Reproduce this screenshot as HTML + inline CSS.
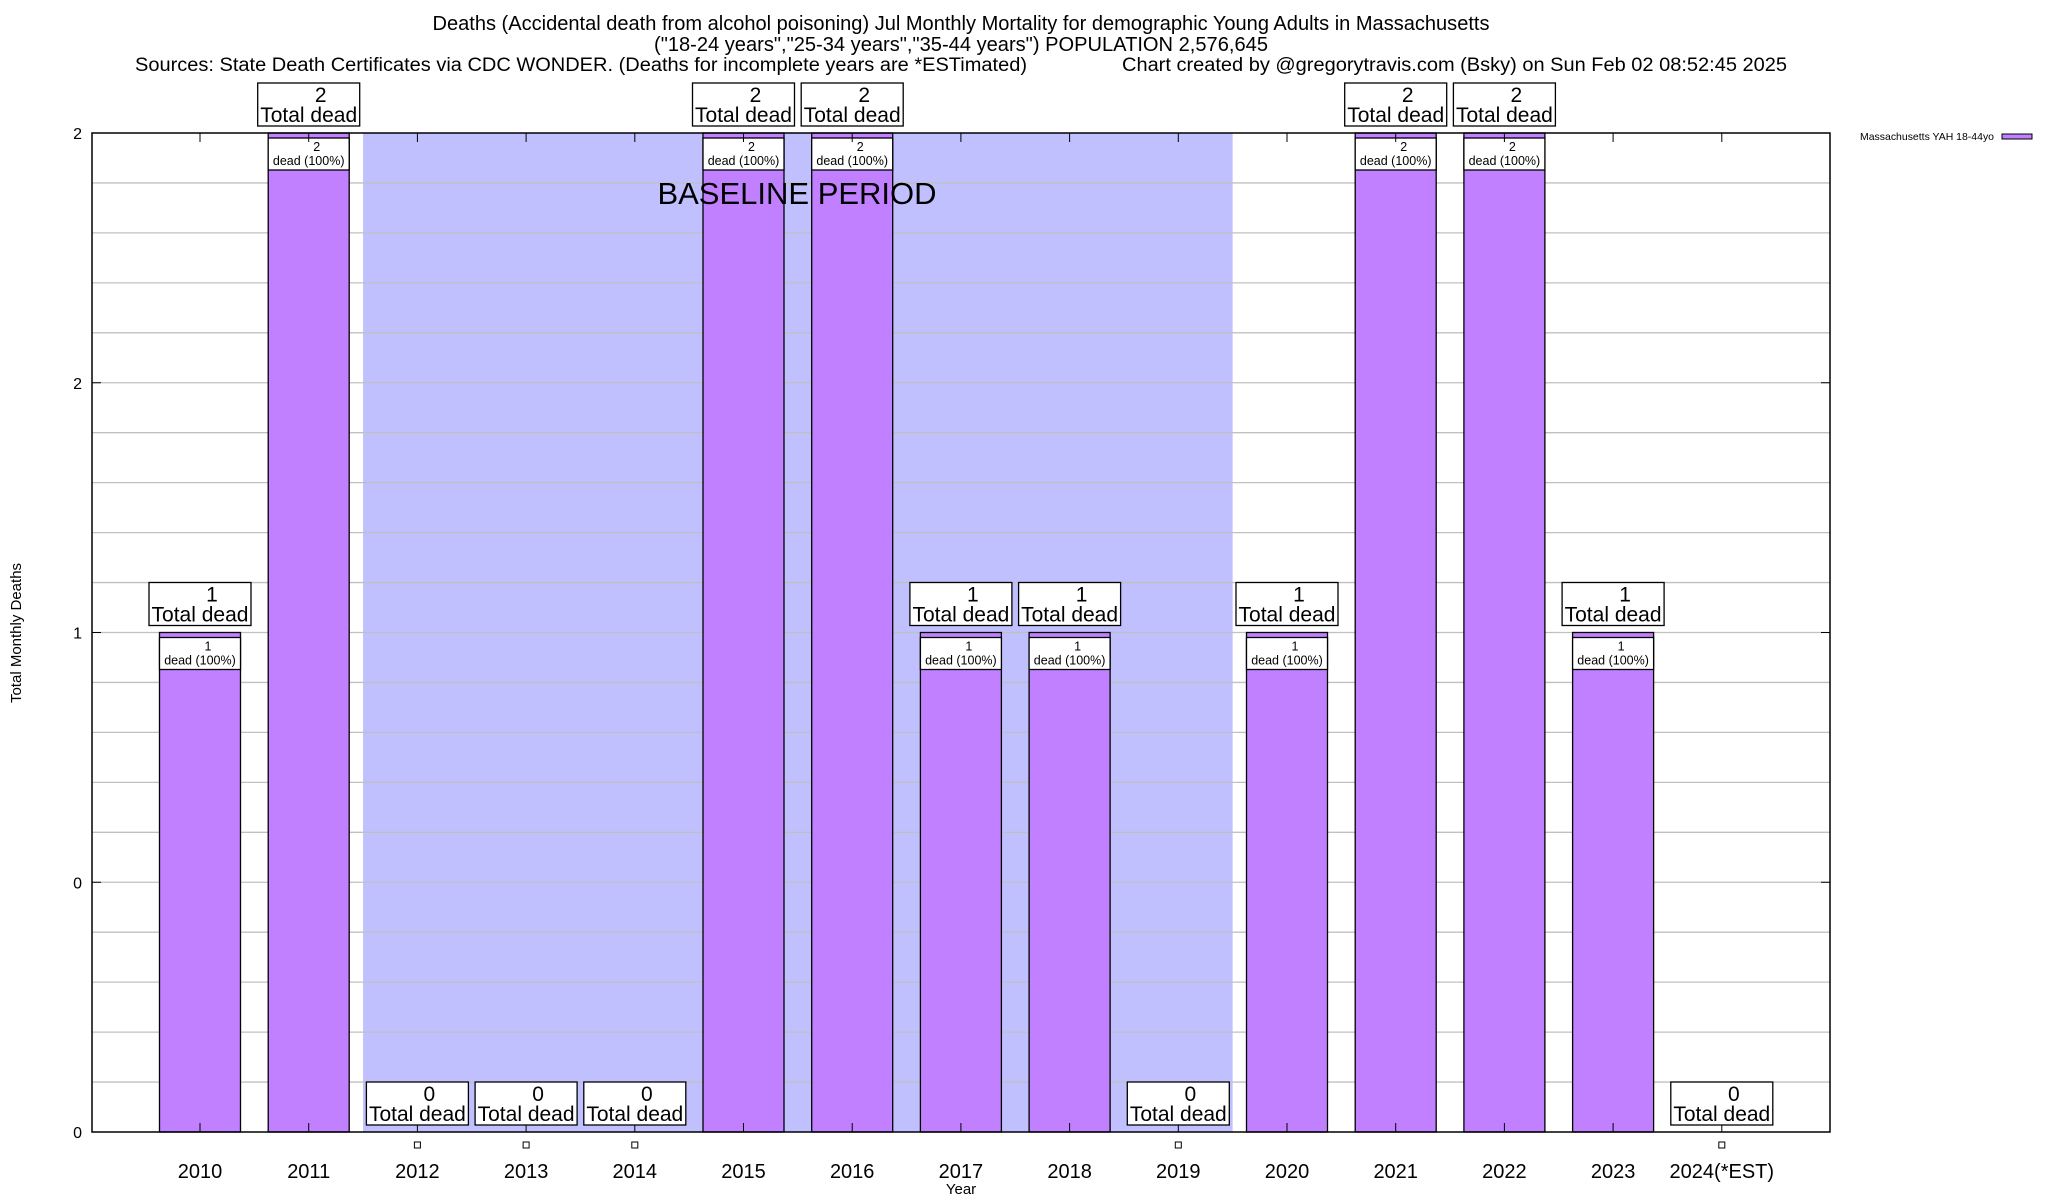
<!DOCTYPE html>
<html><head><meta charset="utf-8"><style>
html,body{margin:0;padding:0;background:#fff;}
svg{display:block;font-family:"Liberation Sans",sans-serif;}
</style></head><body>
<svg id="chart" width="2048" height="1200" viewBox="0 0 2048 1200" xmlns="http://www.w3.org/2000/svg">
<g>
<text x="961" y="30" font-size="20" text-anchor="middle" textLength="1057" lengthAdjust="spacingAndGlyphs">Deaths (Accidental death from alcohol poisoning) Jul Monthly Mortality for demographic Young Adults in Massachusetts</text>
<text x="961" y="51" font-size="20" text-anchor="middle" textLength="614" lengthAdjust="spacingAndGlyphs">("18-24 years","25-34 years","35-44 years") POPULATION 2,576,645</text>
<text x="135" y="71" font-size="19" textLength="892" lengthAdjust="spacingAndGlyphs">Sources: State Death Certificates via CDC WONDER. (Deaths for incomplete years are *ESTimated)</text>
<text x="1122" y="71" font-size="19" textLength="665" lengthAdjust="spacingAndGlyphs">Chart created by @gregorytravis.com (Bsky) on Sun Feb 02 08:52:45 2025</text>
</g>
<g id="plot"></g>
<text x="0" y="0" font-size="15" text-anchor="middle" transform="translate(21,633) rotate(-90)">Total Monthly Deaths</text>
<text x="961" y="1194" font-size="15" text-anchor="middle">Year</text>
<g>
<text x="1860" y="140" font-size="10.5" textLength="134" lengthAdjust="spacingAndGlyphs">Massachusetts YAH 18-44yo</text>
<rect x="2002" y="134" width="30" height="5" fill="#c080ff" stroke="#000" stroke-width="1"/>
</g>
</svg>
<script>
const categories = ["2010","2011","2012","2013","2014","2015","2016","2017","2018","2019","2020","2021","2022","2023","2024(*EST)"];
const deaths = [1,2,0,0,0,2,2,1,1,0,1,2,2,1,0];
const yTickValues = [0,0.5,1,1.5,2];
const yTickLabels = ["0","0","1","2","2"];
const baselineStart = 2, baselineEnd = 9;

const NS="http://www.w3.org/2000/svg";
const plot=document.getElementById('plot');
const L=92,R=1830,T=133,B=1132,yMax=2;
const step=108.7, x0=200, barW=81;
function xS(i){return x0+i*step;}
function yS(v){return B-(v/yMax)*(B-T);}
function mk(tag,attrs,parent){const e=document.createElementNS(NS,tag);for(const k in attrs)e.setAttribute(k,attrs[k]);(parent||plot).appendChild(e);return e;}

const bs=mk('rect',{x:xS(baselineStart-0.5),y:T,width:xS(baselineEnd+0.5)-xS(baselineStart-0.5),height:B-T,fill:'#c0c0ff'});


for(let k=1;k<20;k++){
  const v=k*0.1;
  const g=mk('line',{x1:L,x2:R,y1:yS(v),y2:yS(v),stroke:'#c0c0c0','stroke-width':1.3});
  
  
}
yTickValues.forEach((v,i)=>{
  const t=mk('text',{x:82,y:yS(v)+6,'font-size':16,'text-anchor':'end'});
  t.textContent=yTickLabels[i];
  
  
  mk('line',{x1:L,x2:L+9,y1:yS(v),y2:yS(v),stroke:'#000'});
  mk('line',{x1:R,x2:R-9,y1:yS(v),y2:yS(v),stroke:'#000'});
});
categories.forEach((c,i)=>{
  const v=deaths[i], cx=xS(i);
  if(v>0){
    const b=mk('rect',{x:cx-barW/2,y:yS(v),width:barW,height:B-yS(v),fill:'#c080ff',stroke:'#000','stroke-width':1.3});
    
    
    const ib=mk('rect',{x:cx-barW/2,y:yS(v)+5,width:barW,height:32,fill:'#fff',stroke:'#000','stroke-width':1.3});
    
    
    const t1=mk('text',{x:cx+8,y:yS(v)+18,'font-size':12.5,'text-anchor':'middle'});t1.textContent=v;
    
    
    const t2=mk('text',{x:cx,y:yS(v)+32,'font-size':12.5,'text-anchor':'middle'});t2.textContent='dead (100%)';
    
    
  } else {
    const p=mk('rect',{x:cx-3,y:1142,width:6,height:6,fill:'#fff',stroke:'#000','stroke-width':1});
    
    
  }
  mk('line',{x1:cx,x2:cx,y1:T,y2:T+9,stroke:'#000'});
  mk('line',{x1:cx,x2:cx,y1:B,y2:B-9,stroke:'#000'});
  const top=yS(v)-50;
  const box=mk('rect',{x:cx-51,y:top,width:102,height:43,fill:'#fff',stroke:'#000','stroke-width':1.3});
  
  
  const a=mk('text',{x:cx+12,y:top+19,'font-size':21,'text-anchor':'middle'});a.textContent=v;
  
  
  const b2=mk('text',{x:cx,y:top+39,'font-size':21,'text-anchor':'middle'});b2.textContent='Total dead';
  
  
  const xl=mk('text',{x:cx,y:1178,'font-size':20,'text-anchor':'middle'});xl.textContent=c;
  
  
});
const bt=mk('text',{x:797,y:204,'font-size':31,'text-anchor':'middle'});
bt.textContent='BASELINE PERIOD';


const fr=mk('rect',{x:L,y:T,width:R-L,height:B-T,fill:'none',stroke:'#000','stroke-width':1.5});


</script>
</body></html>
